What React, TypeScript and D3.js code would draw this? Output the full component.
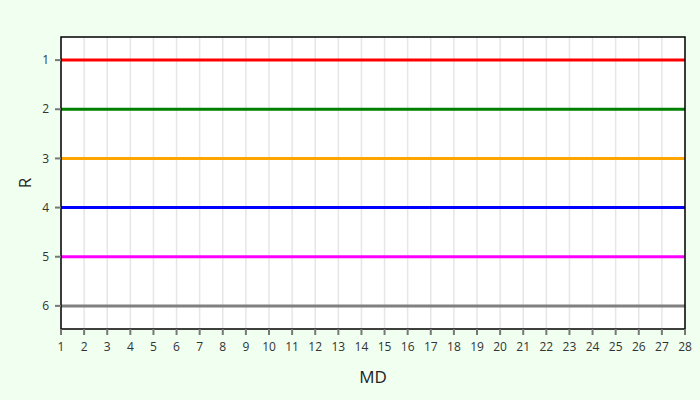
import React from "react";
import * as d3 from "d3";

// match days on the x axis
const matchDays = [1, 2, 3, 4, 5, 6, 7, 8, 9, 10, 11, 12, 13, 14, 15, 16, 17, 18, 19, 20, 21, 22, 23, 24, 25, 26, 27, 28];

// rank of each series at every match day
const redRanks = [1, 1, 1, 1, 1, 1, 1, 1, 1, 1, 1, 1, 1, 1, 1, 1, 1, 1, 1, 1, 1, 1, 1, 1, 1, 1, 1, 1];
const greenRanks = [2, 2, 2, 2, 2, 2, 2, 2, 2, 2, 2, 2, 2, 2, 2, 2, 2, 2, 2, 2, 2, 2, 2, 2, 2, 2, 2, 2];
const orangeRanks = [3, 3, 3, 3, 3, 3, 3, 3, 3, 3, 3, 3, 3, 3, 3, 3, 3, 3, 3, 3, 3, 3, 3, 3, 3, 3, 3, 3];
const blueRanks = [4, 4, 4, 4, 4, 4, 4, 4, 4, 4, 4, 4, 4, 4, 4, 4, 4, 4, 4, 4, 4, 4, 4, 4, 4, 4, 4, 4];
const magentaRanks = [5, 5, 5, 5, 5, 5, 5, 5, 5, 5, 5, 5, 5, 5, 5, 5, 5, 5, 5, 5, 5, 5, 5, 5, 5, 5, 5, 5];
const grayRanks = [6, 6, 6, 6, 6, 6, 6, 6, 6, 6, 6, 6, 6, 6, 6, 6, 6, 6, 6, 6, 6, 6, 6, 6, 6, 6, 6, 6];

const rankTicks = [1, 2, 3, 4, 5, 6];

const series = [
  { color: "red", ranks: redRanks },
  { color: "green", ranks: greenRanks },
  { color: "orange", ranks: orangeRanks },
  { color: "blue", ranks: blueRanks },
  { color: "magenta", ranks: magentaRanks },
  { color: "gray", ranks: grayRanks },
];

const W = 700;
const H = 400;
const margin = { top: 37, right: 15, bottom: 71, left: 61 };
const font = "'Open Sans', sans-serif";

export default function App() {
  const innerW = W - margin.left - margin.right;
  const innerH = H - margin.top - margin.bottom;

  const x = d3.scaleLinear().domain([1, 28]).range([0, innerW]);
  const y = d3.scaleLinear().domain([0.53, 6.47]).range([0, innerH]);

  const line = d3
    .line<number>()
    .x((_, i) => x(matchDays[i]))
    .y((d) => y(d));

  return (
    <svg
      width={W}
      height={H}
      style={{ position: "absolute", left: 0, top: 0, background: "#f0fff0" }}
    >
      <g transform={`translate(${margin.left},${margin.top})`}>
        <rect width={innerW} height={innerH} fill="white" />
        {/* vertical grid */}
        {matchDays.map((d) => (
          <line key={d} x1={x(d)} x2={x(d)} y1={0} y2={innerH} stroke="#e6e6e6" strokeWidth={1.5} />
        ))}
        {series.map((s) => (
          <path key={s.color} d={line(s.ranks) || ""} fill="none" stroke={s.color} strokeWidth={3} />
        ))}
        <rect width={innerW} height={innerH} fill="none" stroke="black" strokeWidth={1.5} />

        {/* y axis */}
        {rankTicks.map((r) => (
          <g key={r} transform={`translate(0,${y(r)})`}>
            <line x1={-6} x2={0} stroke="#777" strokeWidth={2} />
            <text x={-12} dy="0.35em" textAnchor="end" fontSize={12} fontFamily={font} fill="#333">
              {r}
            </text>
          </g>
        ))}

        {/* x axis */}
        {matchDays.map((d) => (
          <g key={d} transform={`translate(${x(d)},${innerH})`}>
            <line y1={0} y2={6} stroke="#777" strokeWidth={2} />
            <text y={22} textAnchor="middle" fontSize={12} fontFamily={font} fill="#333">
              {d}
            </text>
          </g>
        ))}

        <text
          transform={`translate(${-30},${innerH / 2}) rotate(-90)`}
          textAnchor="middle"
          fontSize={17}
          fontFamily={font}
          fill="#222"
        >
          R
        </text>
        <text x={innerW / 2} y={innerH + 54} textAnchor="middle" fontSize={17} fontFamily={font} fill="#222">
          MD
        </text>
      </g>
    </svg>
  );
}
